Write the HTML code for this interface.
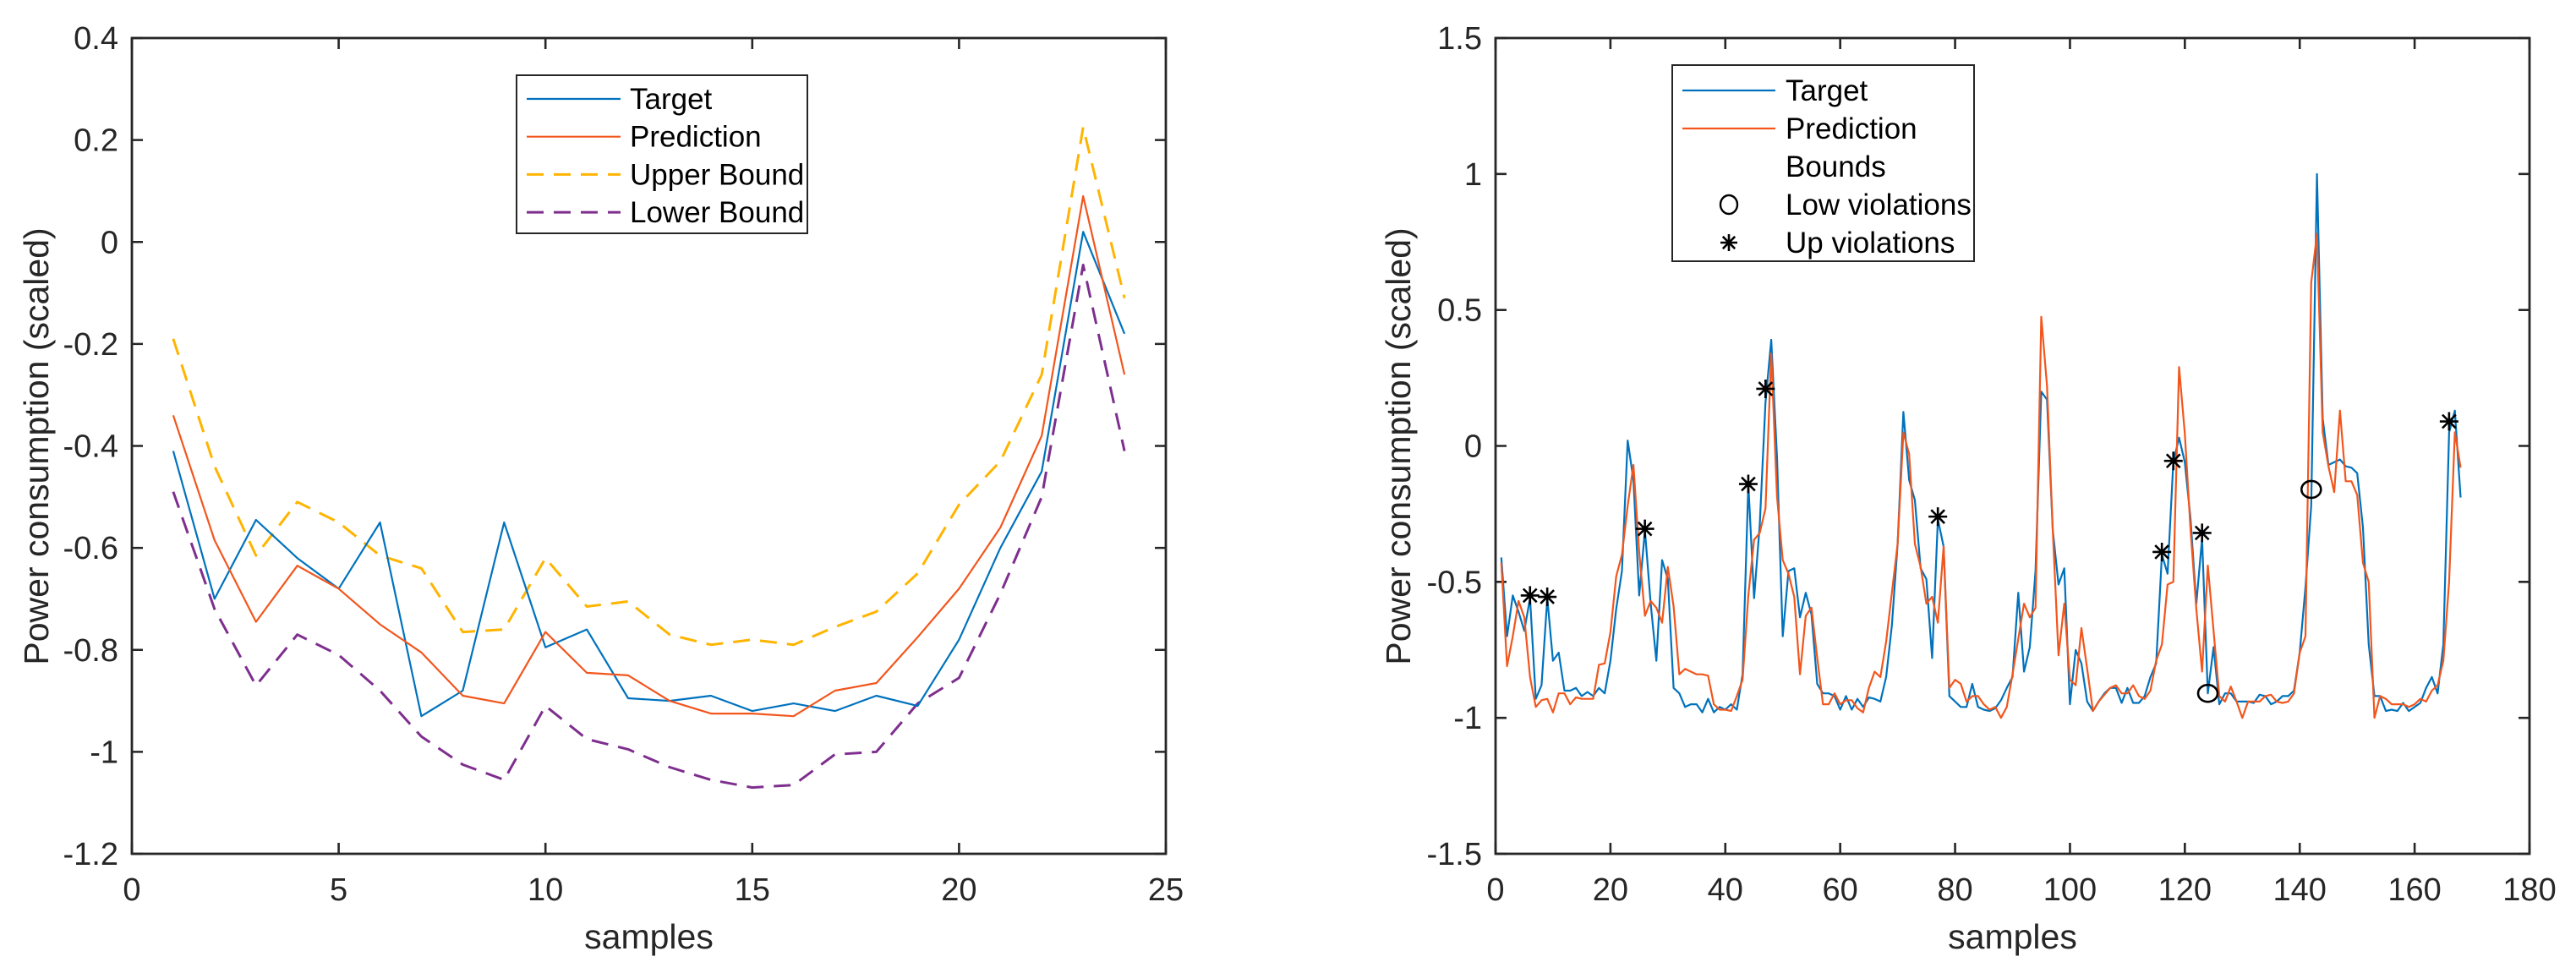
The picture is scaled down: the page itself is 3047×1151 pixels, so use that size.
<!DOCTYPE html>
<html><head><meta charset="utf-8">
<style>
html,body{margin:0;padding:0;background:#fff;}
svg{display:block;font-family:"Liberation Sans",Arial,sans-serif;}
</style></head>
<body>
<svg id="fig" width="3047" height="1151" viewBox="0 0 3047 1151" xmlns="http://www.w3.org/2000/svg"></svg>
<script>
// ---------- Left chart data ----------
const leftSamples = [1,2,3,4,5,6,7,8,9,10,11,12,13,14,15,16,17,18,19,20,21,22,23,24];
const leftTarget = [-0.41,-0.70,-0.545,-0.62,-0.68,-0.55,-0.93,-0.88,-0.55,-0.795,-0.76,-0.895,-0.90,-0.89,-0.92,-0.905,-0.92,-0.89,-0.91,-0.78,-0.60,-0.45,0.02,-0.18];
const leftPrediction = [-0.34,-0.585,-0.745,-0.635,-0.68,-0.75,-0.805,-0.89,-0.905,-0.765,-0.845,-0.85,-0.90,-0.925,-0.925,-0.93,-0.88,-0.865,-0.775,-0.68,-0.56,-0.38,0.09,-0.26];
const leftUpper = [-0.19,-0.44,-0.615,-0.51,-0.55,-0.615,-0.64,-0.765,-0.76,-0.62,-0.715,-0.705,-0.77,-0.79,-0.78,-0.79,-0.755,-0.725,-0.65,-0.515,-0.43,-0.26,0.225,-0.11];
const leftLower = [-0.49,-0.72,-0.87,-0.77,-0.81,-0.88,-0.97,-1.025,-1.055,-0.91,-0.975,-0.995,-1.03,-1.055,-1.07,-1.065,-1.005,-1.0,-0.905,-0.855,-0.69,-0.50,-0.045,-0.41];
const leftXTicks = [0,5,10,15,20,25];
const leftYTicks = [-1.2,-1,-0.8,-0.6,-0.4,-0.2,0,0.2,0.4];
const leftYTickLabels = ["-1.2","-1","-0.8","-0.6","-0.4","-0.2","0","0.2","0.4"];

// ---------- Right chart data ----------
const rightTarget = [-0.41,-0.70,-0.55,-0.61,-0.68,-0.56,-0.93,-0.88,-0.56,-0.79,-0.76,-0.90,-0.90,-0.89,-0.92,-0.905,-0.92,-0.89,-0.91,-0.79,
-0.60,-0.46,0.02,-0.125,-0.55,-0.31,-0.58,-0.79,-0.42,-0.49,-0.89,-0.91,-0.96,-0.95,-0.95,-0.98,-0.93,-0.98,-0.96,-0.97,
-0.95,-0.97,-0.84,-0.14,-0.56,-0.29,0.16,0.39,-0.04,-0.70,-0.46,-0.45,-0.63,-0.54,-0.62,-0.875,-0.91,-0.91,-0.92,-0.97,
-0.92,-0.97,-0.93,-0.96,-0.925,-0.93,-0.94,-0.85,-0.66,-0.36,0.125,-0.125,-0.20,-0.45,-0.49,-0.78,-0.27,-0.37,-0.92,-0.94,
-0.96,-0.96,-0.875,-0.96,-0.97,-0.975,-0.965,-0.935,-0.89,-0.85,-0.54,-0.83,-0.74,-0.46,0.20,0.17,-0.31,-0.51,-0.45,-0.95,
-0.75,-0.80,-0.94,-0.975,-0.94,-0.91,-0.89,-0.89,-0.945,-0.89,-0.945,-0.945,-0.92,-0.85,-0.80,-0.40,-0.47,-0.06,0.03,-0.06,
-0.27,-0.58,-0.34,-0.91,-0.74,-0.95,-0.91,-0.91,-0.94,-0.94,-0.94,-0.945,-0.915,-0.92,-0.95,-0.94,-0.92,-0.92,-0.90,-0.76,
-0.52,-0.22,1.0,0.1,-0.07,-0.06,-0.05,-0.075,-0.08,-0.10,-0.30,-0.73,-0.92,-0.92,-0.975,-0.97,-0.975,-0.945,-0.975,-0.96,
-0.945,-0.89,-0.85,-0.91,-0.73,0.05,0.13,-0.19];
const rightPrediction = [-0.43,-0.81,-0.70,-0.57,-0.63,-0.85,-0.96,-0.935,-0.93,-0.98,-0.91,-0.91,-0.95,-0.925,-0.93,-0.93,-0.93,-0.805,-0.80,-0.685,
-0.48,-0.40,-0.22,-0.07,-0.39,-0.625,-0.57,-0.595,-0.65,-0.445,-0.59,-0.84,-0.82,-0.83,-0.84,-0.84,-0.845,-0.95,-0.97,-0.97,
-0.975,-0.92,-0.86,-0.55,-0.345,-0.32,-0.23,0.34,-0.185,-0.42,-0.47,-0.555,-0.84,-0.625,-0.595,-0.78,-0.95,-0.95,-0.91,-0.95,
-0.935,-0.935,-0.965,-0.98,-0.89,-0.83,-0.85,-0.72,-0.54,-0.36,0.05,-0.03,-0.36,-0.445,-0.58,-0.555,-0.65,-0.37,-0.89,-0.86,
-0.875,-0.94,-0.92,-0.92,-0.95,-0.97,-0.96,-1.0,-0.96,-0.84,-0.71,-0.58,-0.63,-0.595,0.475,0.22,-0.31,-0.77,-0.58,-0.86,
-0.88,-0.67,-0.82,-0.975,-0.94,-0.915,-0.89,-0.88,-0.91,-0.91,-0.88,-0.92,-0.93,-0.90,-0.79,-0.73,-0.51,-0.50,0.29,0.045,
-0.31,-0.60,-0.83,-0.44,-0.68,-0.92,-0.94,-0.885,-0.94,-1.0,-0.94,-0.94,-0.94,-0.92,-0.915,-0.94,-0.945,-0.94,-0.91,-0.76,
-0.70,0.60,0.78,0.05,-0.075,-0.17,0.13,-0.13,-0.13,-0.18,-0.43,-0.50,-1.0,-0.92,-0.93,-0.95,-0.95,-0.95,-0.96,-0.95,
-0.93,-0.94,-0.90,-0.88,-0.79,-0.50,0.05,-0.08];
const upViolX = [6,9,26,44,47,77,116,118,123,166];
const upViolY = [-0.55,-0.555,-0.305,-0.14,0.21,-0.26,-0.39,-0.055,-0.32,0.09];
const lowViolX = [124,142];
const lowViolY = [-0.91,-0.16];
const rightXTicks = [0,20,40,60,80,100,120,140,160,180];
const rightYTicks = [-1.5,-1,-0.5,0,0.5,1,1.5];
const rightYTickLabels = ["-1.5","-1","-0.5","0","0.5","1","1.5"];

const NS = "http://www.w3.org/2000/svg";
const svg = document.getElementById('fig');
function mk(tag, attrs, parent){
  const e = document.createElementNS(NS, tag);
  for (const k in attrs) e.setAttribute(k, attrs[k]);
  (parent||svg).appendChild(e);
  return e;
}
const BLUE="#0072BD", ORANGE="#F2561D", YELLOW="#FFB400", PURPLE="#7E2F8E", AX="#262626";

function makeAxes(name, left, top, w, h, xmin, xmax, ymin, ymax){
  const g = mk('g', {});
  
  
  const sx = v => left + (v - xmin) / (xmax - xmin) * w;
  const sy = v => top + h - (v - ymin) / (ymax - ymin) * h;
  return {g, sx, sy, left, top, w, h};
}
function drawFrame(ax, xticks, yticks, ylabels){
  const {g, sx, sy, left, top, w, h} = ax;
  xticks.forEach(t => {
    const x = sx(t);
    const tk = mk('path', {d:`M${x},${top+h}v-13M${x},${top}v13`, stroke:AX, 'stroke-width':2.6}, g);
    
    
    const lb = mk('text', {x:x, y:top+h+55, 'text-anchor':'middle', 'font-size':38, fill:AX}, g);
    
    
    lb.textContent = String(t);
  });
  yticks.forEach((t,i) => {
    const y = sy(t);
    const tk = mk('path', {d:`M${left},${y}h13M${left+w},${y}h-13`, stroke:AX, 'stroke-width':2.6}, g);
    
    
    const lb = mk('text', {x:left-16, y:y+13, 'text-anchor':'end', 'font-size':38, fill:AX}, g);
    
    
    lb.textContent = ylabels[i];
  });
  const fr = mk('rect', {x:left, y:top, width:w, height:h, fill:'none', stroke:AX, 'stroke-width':2.8}, g);
  
  
  const xl = mk('text', {x:left+w/2, y:top+h+112, 'text-anchor':'middle', 'font-size':41, fill:AX}, g);
  
  
  xl.textContent = 'samples';
}
function drawLine(ax, xs, ys, color, width, dash, name){
  const d = xs.map((x,i) => (i?'L':'M') + ax.sx(x).toFixed(1) + ',' + ax.sy(ys[i]).toFixed(1)).join('');
  const p = mk('path', {d:d, fill:'none', stroke:color, 'stroke-width':width, 'stroke-linejoin':'round'}, ax.g);
  if (dash) p.setAttribute('stroke-dasharray', dash);
  
  
}
function star(parent, cx, cy, r){
  const g = mk('g', {stroke:'#000', 'stroke-width':2.6}, parent);
  mk('path', {d:`M${cx-r},${cy}h${2*r}M${cx},${cy-r}v${2*r}M${cx-r*0.72},${cy-r*0.72}L${cx+r*0.72},${cy+r*0.72}M${cx-r*0.72},${cy+r*0.72}L${cx+r*0.72},${cy-r*0.72}`}, g);
  return g;
}

// ---------- Left chart ----------
const A = makeAxes('left-chart', 156, 45, 1223, 965, 0, 25, -1.2, 0.4);
drawFrame(A, leftXTicks, leftYTicks, leftYTickLabels);
drawLine(A, leftSamples, leftUpper, YELLOW, 3, '20 12', 'upper-bound-line');
drawLine(A, leftSamples, leftLower, PURPLE, 3, '20 12', 'lower-bound-line');
drawLine(A, leftSamples, leftTarget, BLUE, 2.2, null, 'target-line');
drawLine(A, leftSamples, leftPrediction, ORANGE, 2.2, null, 'prediction-line');
const yl1 = mk('text', {x:0, y:0, transform:'translate(57,528) rotate(-90)', 'text-anchor':'middle', 'font-size':41, fill:AX});


yl1.textContent = 'Power consumption (scaled)';

// left legend
const lg1 = mk('g', {});


mk('rect', {x:611, y:89, width:344, height:187, fill:'#fff', stroke:AX, 'stroke-width':2}, lg1);
const leftLegendItems = [['Target',BLUE,null],['Prediction',ORANGE,null],['Upper Bound',YELLOW,'20 12'],['Lower Bound',PURPLE,'20 12']];
leftLegendItems.forEach((it,i) => {
  const y = 117 + i*44.7;
  const e = mk('g', {}, lg1);
  
  
  const ln = mk('line', {x1:623, x2:734, y1:y, y2:y, stroke:it[1], 'stroke-width':it[2]?3:2.2}, e);
  if (it[2]) ln.setAttribute('stroke-dasharray', it[2]);
  const t = mk('text', {x:745, y:y+12, 'font-size':35, fill:'#000'}, e);
  t.textContent = it[0];
});

// ---------- Right chart ----------
const B = makeAxes('right-chart', 1769, 45, 1223, 965, 0, 180, -1.5, 1.5);
drawFrame(B, rightXTicks, rightYTicks, rightYTickLabels);
const rightSamples = rightTarget.map((_,i) => i+1);
drawLine(B, rightSamples, rightTarget, BLUE, 2.2, null, 'target-line');
drawLine(B, rightSamples, rightPrediction, ORANGE, 2.2, null, 'prediction-line');
upViolX.forEach((x,i) => {
  const s = star(B.g, B.sx(x), B.sy(upViolY[i]), 11);
  
  
});
lowViolX.forEach((x,i) => {
  const c = mk('ellipse', {cx:B.sx(x), cy:B.sy(lowViolY[i]), rx:11.5, ry:10, fill:'none', stroke:'#000', 'stroke-width':2.6}, B.g);
  
  
});
const yl2 = mk('text', {x:0, y:0, transform:'translate(1668,528) rotate(-90)', 'text-anchor':'middle', 'font-size':41, fill:AX});


yl2.textContent = 'Power consumption (scaled)';

// right legend
const lg2 = mk('g', {});


mk('rect', {x:1978, y:77, width:357, height:232, fill:'#fff', stroke:AX, 'stroke-width':2}, lg2);
const rightLegendLabels = ['Target','Prediction','Bounds','Low violations','Up violations'];
rightLegendLabels.forEach((lab,i) => {
  const y = 107 + i*45;
  const e = mk('g', {}, lg2);
  
  
  if (i===0) mk('line', {x1:1990, x2:2100, y1:y, y2:y, stroke:BLUE, 'stroke-width':2.2}, e);
  if (i===1) mk('line', {x1:1990, x2:2100, y1:y, y2:y, stroke:ORANGE, 'stroke-width':2.2}, e);
  if (i===3) mk('ellipse', {cx:2045, cy:y, rx:10, ry:11, fill:'none', stroke:'#000', 'stroke-width':2.4}, e);
  if (i===4) star(e, 2045, y, 10);
  const t = mk('text', {x:2112, y:y+12, 'font-size':35, fill:'#000'}, e);
  t.textContent = lab;
});
</script>
</body></html>
